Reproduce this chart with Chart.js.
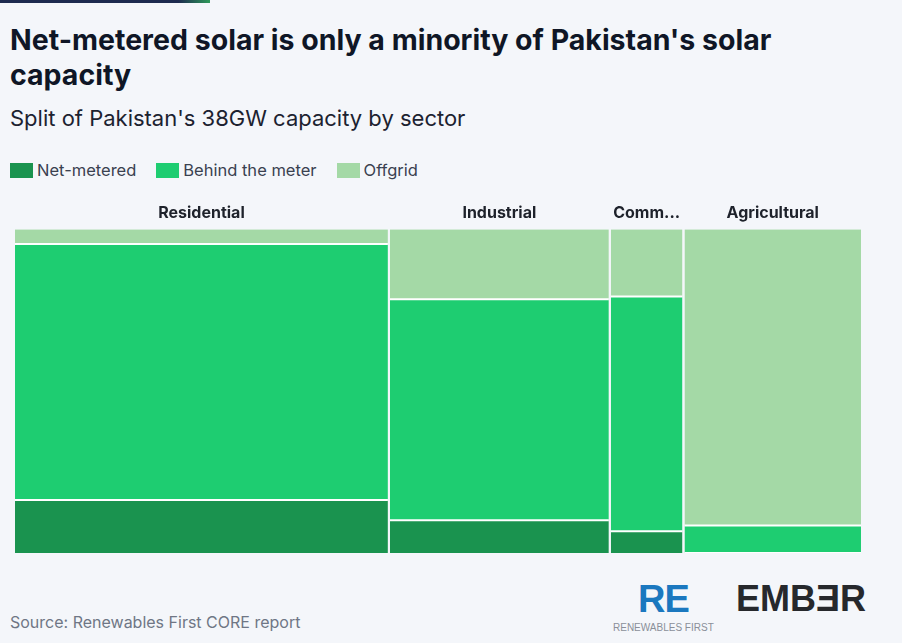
<!DOCTYPE html>
<html>
<head>
<meta charset="utf-8">
<script src="https://cdn.jsdelivr.net/npm/chart.js@4"></script>
<style>
  html, body { margin: 0; padding: 0; }
  body { width: 902px; height: 643px; background: #f4f6fa; position: relative; overflow: hidden; font-family: "Inter", "Open Sans", sans-serif; }
  .topbar { position: absolute; left: 0; top: 0; width: 210px; height: 3px; background: linear-gradient(90deg, #1d2b4f 0%, #1d2b4f 85%, #2f9a5a 100%); }
  h1 { position: absolute; left: 10px; top: 22px; margin: 0; width: 790px; font-size: 28.5px; line-height: 35px; font-weight: 700; color: #0f1626; }
  .sub { position: absolute; left: 10px; top: 105px; font-size: 22px; color: #1c2230; }
  .legend { position: absolute; left: 10px; top: 160px; font-size: 16.5px; color: #3a4150; display: flex; }
  .legend span.item { display: flex; align-items: center; }
  .legend i { display: inline-block; width: 23px; height: 15px; margin-right: 4px; }
  #wrap { position: absolute; left: 0; top: 188px; width: 902px; height: 372px; }
  .source { position: absolute; left: 10px; top: 612px; font-size: 16px; color: #6f7685; }
  .re { position: absolute; left: 638px; top: 578px; font-size: 38px; font-weight: 900; color: #1b78bf; letter-spacing: -1px; font-family: "Liberation Sans", sans-serif; }
  .refirst { position: absolute; left: 613px; top: 622px; font-size: 10px; color: #8a8f99; font-family: "Liberation Sans Narrow", "Liberation Sans", sans-serif; }
  .ember { position: absolute; left: 736px; top: 578px; font-size: 36px; font-weight: 900; color: #26282c; font-family: "Liberation Sans", sans-serif; }
</style>
</head>
<body>
<div class="topbar"></div>
<h1>Net-metered solar is only a minority of Pakistan's solar capacity</h1>
<div class="sub">Split of Pakistan's 38GW capacity by sector</div>
<div class="legend" id="legend"></div>
<div id="wrap"><canvas id="mekko"></canvas></div>
<div class="source">Source: Renewables First CORE report</div>
<div class="re">RE</div>
<div class="refirst">RENEWABLES FIRST</div>
<div class="ember">EMBƎR</div>
<script>
// sector capacity (GW) and split of each sector (% of that sector)
const sectors = ["Residential", "Industrial", "Commercial", "Agricultural"];
const capacityGW = [16.8, 9.9, 3.3, 8.0];
const netMetered = [16.4, 10.1, 6.7, 0];
const behindMeter = [79.0, 68.3, 72.5, 8.5];
const offgrid = [4.6, 21.6, 20.8, 91.5];

const seriesNames = ["Net-metered", "Behind the meter", "Offgrid"];
const seriesColors = ["#1a934f", "#1ecd71", "#a4d9a6"];

document.addEventListener("DOMContentLoaded", function () {
    let total = capacityGW.reduce((a, b) => a + b, 0);
    let gap = 0.045;

    // stacked tops for every series
    let tops = [
        netMetered,
        netMetered.map((v, i) => v + behindMeter[i]),
        netMetered.map((v, i) => v + behindMeter[i] + offgrid[i])
    ];

    function columnPoints(levels) {
        let x = 0;
        let pts = [];
        capacityGW.forEach((w, i) => {
            pts.push({ x: x + gap, y: levels[i] }, { x: x + w - gap, y: levels[i] }, { x: x + w, y: null });
            x += w;
        });
        return pts;
    }

    let centers = [];
    let acc = 0;
    capacityGW.forEach(w => { centers.push(acc + w / 2); acc += w; });

    // legend
    let legend = document.getElementById("legend");
    seriesNames.forEach((name, i) => {
        let item = document.createElement("span");
        item.className = "item";
        item.style.marginRight = "20px";
        item.innerHTML = '<i style="background:' + seriesColors[i] + '"></i>' + name;
        legend.appendChild(item);
    });

    let ctx = document.getElementById("mekko").getContext("2d");
    new Chart(ctx, {
        type: "line",
        data: {
            datasets: tops.map((levels, i) => ({
                label: seriesNames[i],
                data: columnPoints(levels),
                backgroundColor: seriesColors[i],
                borderColor: i < 2 ? "#ffffff" : seriesColors[i],
                borderWidth: i < 2 ? 2 : 0,
                pointRadius: 0,
                fill: i === 0 ? "origin" : "-1",
                spanGaps: false,
                tension: 0
            }))
        },
        options: {
            responsive: true,
            maintainAspectRatio: false,
            animation: false,
            layout: { padding: { left: 14, right: 40, top: 10, bottom: 7 } },
            plugins: {
                legend: { display: false },
                tooltip: { enabled: false }
            },
            scales: {
                x: { type: "linear", min: 0, max: total, display: false },
                top: {
                    type: "linear",
                    position: "top",
                    min: 0,
                    max: total,
                    grid: { display: false, drawTicks: false },
                    border: { display: false },
                    afterBuildTicks: function (axis) {
                        axis.ticks = centers.map(v => ({ value: v }));
                    },
                    ticks: {
                        autoSkip: false,
                        maxRotation: 0,
                        padding: 6,
                        color: "#1e222b",
                        font: { family: "Inter", size: 16, weight: "bold" },
                        callback: function (value, index) {
                            let name = sectors[index];
                            let px = capacityGW[index] / total * (this.chart.width - 54);
                            if (name.length * 9.5 > px) return name.slice(0, 4) + "...";
                            return name;
                        }
                    }
                },
                y: { min: 0, max: 100, display: false }
            }
        }
    });
});
</script>
</body>
</html>
